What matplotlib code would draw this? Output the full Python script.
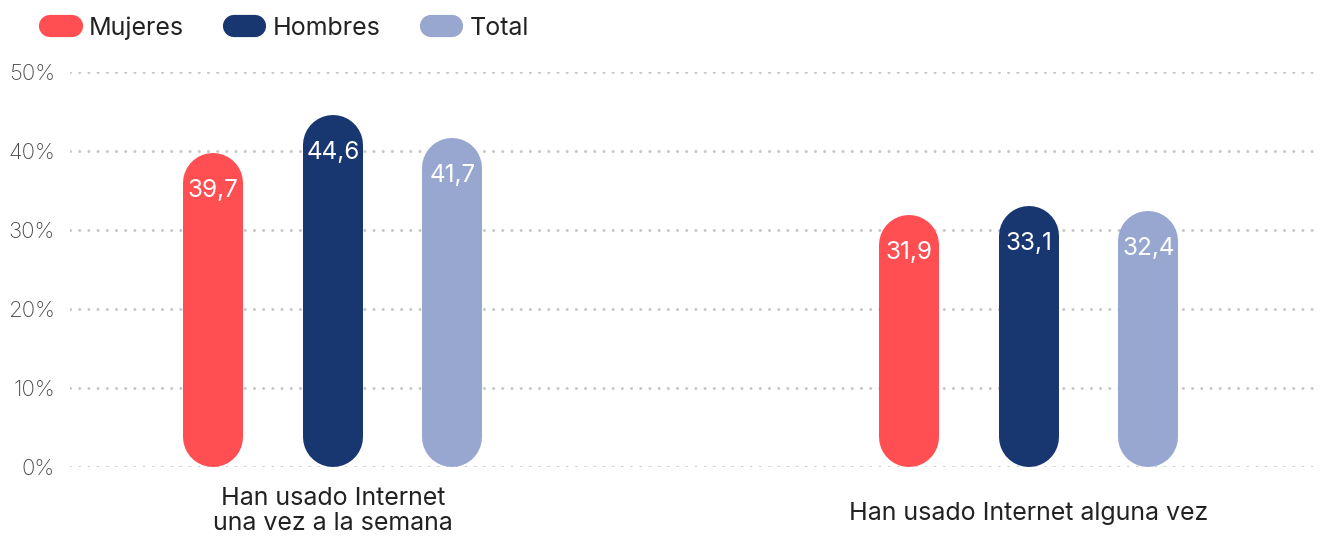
import matplotlib
matplotlib.use("Agg")
import matplotlib.pyplot as plt
from matplotlib.lines import Line2D

categories = ["Han usado Internet\nuna vez a la semana", "Han usado Internet alguna vez"]
series = ["Mujeres", "Hombres", "Total"]
mujeres = [39.7, 31.9]
hombres = [44.6, 33.1]
total = [41.7, 32.4]
yticks = [0, 10, 20, 30, 40, 50]
yticklabels = ["0%", "10%", "20%", "30%", "40%", "50%"]

colors = ["#FF4F52", "#183670", "#98A7CF"]
plt.rcParams['font.family'] = ['Inter', 'DejaVu Sans']

W, H, DPI = 1323, 539, 100
fig = plt.figure(figsize=(W / DPI, H / DPI), dpi=DPI)
left, right, bottom, top = 70, 1320, 467, 72
ax = fig.add_axes([left / W, 1 - bottom / H, (right - left) / W, (bottom - top) / H])
ax.set_xlim(-0.378, 1.418)
ax.set_ylim(0, 50)
for s in ax.spines.values():
    s.set_visible(False)

for yv in yticks:
    ax.axhline(yv, color="#C8C8C8", lw=2.2, linestyle=(0, (0.01, 3.0)),
               dash_capstyle="round", zorder=0)

ax.set_yticks(yticks)
ax.set_yticklabels(yticklabels, fontsize=16, color="#4A4A4A", fontweight="light")
ax.tick_params(axis="y", length=0, pad=11)
ax.set_xticks([])

# pixel-per-data conversions
px_per_y = (bottom - top) / 50.0
bar_px = 60
r_data = (bar_px / 2) / px_per_y
lw_pt = bar_px * 72 / DPI

offsets = [-0.173, 0.0, 0.1715]
all_vals = [mujeres, hombres, total]
for si, (vals, col, off) in enumerate(zip(all_vals, colors, offsets)):
    for gi, v in enumerate(vals):
        x = gi + off
        ax.plot([x, x], [r_data, v - r_data], color=col, lw=lw_pt,
                solid_capstyle="round", zorder=2, clip_on=False)
        ax.annotate(f"{v:.1f}".replace(".", ","), (x, v), xytext=(0, -27),
                    textcoords="offset points", ha="center", va="center",
                    color="white", fontsize=17.5, zorder=3)

label_y = [-5.6, -5.9]
for gi, cat in enumerate(categories):
    ax.text(gi, label_y[gi], cat, ha="center", va="center", fontsize=18,
            color="#222222", linespacing=1.1, clip_on=False)

handles = [Line2D([0], [0], color=c, lw=16, solid_capstyle="round") for c in colors]
leg = fig.legend(handles, series, loc="upper left", bbox_to_anchor=(0.021, 1.012),
                 ncol=3, frameon=False, fontsize=18, handlelength=0.85,
                 handletextpad=0.7, columnspacing=2.0)
for t in leg.get_texts():
    t.set_color("#222222")

fig.savefig("out.png", dpi=DPI)
